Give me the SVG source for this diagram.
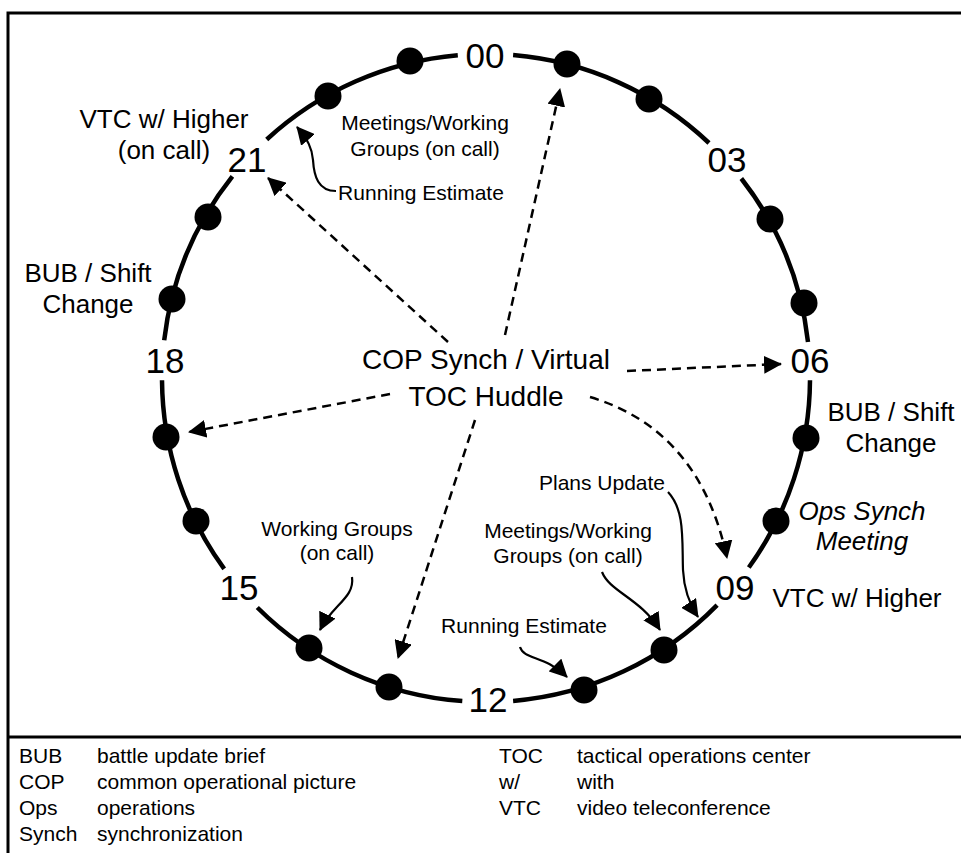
<svg xmlns="http://www.w3.org/2000/svg" width="961" height="853" viewBox="0 0 961 853">
  <style>
    .frame { stroke: #000; stroke-width: 3; fill: none; }
    .ring { stroke: #000; stroke-width: 4.5; fill: none; }
    .dot { fill: #000; }
    .hour { font-family: "Liberation Sans", Arial, sans-serif; font-size: 35px; fill: #000; text-anchor: middle; }
    .big { font-family: "Liberation Sans", Arial, sans-serif; font-size: 26px; fill: #000; text-anchor: middle; }
    .center { font-family: "Liberation Sans", Arial, sans-serif; font-size: 28px; fill: #000; text-anchor: middle; }
    .small { font-family: "Liberation Sans", Arial, sans-serif; font-size: 21px; fill: #000; text-anchor: middle; }
    .legend { font-family: "Liberation Sans", Arial, sans-serif; font-size: 21px; fill: #000; }
    .ital { font-style: italic; }
    .dash { stroke: #000; stroke-width: 2.5; fill: none; stroke-dasharray: 9 6; marker-end: url(#head); }
    .solid { stroke: #000; stroke-width: 2.2; fill: none; marker-end: url(#head); }
  </style>
  <defs>
    <marker id="head" markerUnits="userSpaceOnUse" markerWidth="18" markerHeight="18" viewBox="0 0 18 18" refX="17" refY="9" orient="auto">
      <path d="M0,0 L18,9 L0,18 z" fill="#000"/>
    </marker>
  </defs>

  <rect width="961" height="853" fill="#fff"/>

  <!-- frame and legend divider -->
  <g id="frame">
    <path class="frame" d="M8,853 L8,13 L961,13"/>
    <path class="frame" d="M8,737 L961,737"/>
  </g>

  <!-- 24-hour ring, broken at the labelled hours -->
  <g id="ring">
    <path class="ring" d="M513.1,55.1 A324,324 0 0 1 709.0,143.0"/>
    <path class="ring" d="M741.3,178.5 A324,324 0 0 1 808.0,341.9"/>
    <path class="ring" d="M810.0,380.3 A324,324 0 0 1 748.8,567.5"/>
    <path class="ring" d="M717.1,605.1 A324,324 0 0 1 513.1,700.9"/>
    <path class="ring" d="M462.3,701.1 A324,324 0 0 1 257.3,607.5"/>
    <path class="ring" d="M224.2,568.9 A324,324 0 0 1 162.0,380.3"/>
    <path class="ring" d="M164.2,340.2 A324,324 0 0 1 232.4,176.3"/>
    <path class="ring" d="M266.7,139.5 A324,324 0 0 1 457.8,55.2"/>
  </g>

  <!-- hourly markers -->
  <g id="hour-dots">
    <circle class="dot" cx="567" cy="64" r="13.5"/>
    <circle class="dot" cx="649" cy="99" r="13.5"/>
    <circle class="dot" cx="770" cy="219" r="13.5"/>
    <circle class="dot" cx="804" cy="303" r="13.5"/>
    <circle class="dot" cx="806" cy="438" r="13.5"/>
    <circle class="dot" cx="776" cy="521" r="13.5"/>
    <circle class="dot" cx="664" cy="650" r="13.5"/>
    <circle class="dot" cx="584" cy="690" r="13.5"/>
    <circle class="dot" cx="389" cy="687" r="13.5"/>
    <circle class="dot" cx="309" cy="648" r="13.5"/>
    <circle class="dot" cx="196" cy="521" r="13.5"/>
    <circle class="dot" cx="166" cy="437" r="13.5"/>
    <circle class="dot" cx="172" cy="299" r="13.5"/>
    <circle class="dot" cx="208" cy="217" r="13.5"/>
    <circle class="dot" cx="328" cy="96" r="13.5"/>
    <circle class="dot" cx="410" cy="61" r="13.5"/>
  </g>

  <g id="hour-labels">
    <text class="hour" x="485" y="68">00</text>
    <text class="hour" x="727" y="172">03</text>
    <text class="hour" x="810" y="373">06</text>
    <text class="hour" x="735" y="600">09</text>
    <text class="hour" x="488" y="712">12</text>
    <text class="hour" x="239" y="600">15</text>
    <text class="hour" x="165" y="373">18</text>
    <text class="hour" x="247" y="172">21</text>
  </g>

  <g id="node-cop-synch">
    <text class="center" x="486" y="369">COP Synch / Virtual</text>
    <text class="center" x="486" y="406">TOC Huddle</text>
  </g>

  <g id="node-vtc-21">
    <text class="big" x="164" y="128">VTC w/ Higher</text>
    <text class="big" x="164" y="159">(on call)</text>
  </g>
  <g id="node-bub-18">
    <text class="big" x="88" y="282">BUB / Shift</text>
    <text class="big" x="88" y="313">Change</text>
  </g>
  <g id="node-bub-06">
    <text class="big" x="891" y="421">BUB / Shift</text>
    <text class="big" x="891" y="452">Change</text>
  </g>
  <g id="node-ops-synch">
    <text class="big ital" x="862" y="520">Ops Synch</text>
    <text class="big ital" x="862" y="550">Meeting</text>
  </g>
  <g id="node-vtc-09">
    <text class="big" x="857" y="607">VTC w/ Higher</text>
  </g>

  <g id="node-meetings-22">
    <text class="small" x="425" y="130">Meetings/Working</text>
    <text class="small" x="425" y="156">Groups (on call)</text>
  </g>
  <g id="node-running-22">
    <text class="small" x="421" y="200">Running Estimate</text>
  </g>
  <g id="node-plans">
    <text class="small" x="602" y="490">Plans Update</text>
  </g>
  <g id="node-meetings-10">
    <text class="small" x="568" y="538">Meetings/Working</text>
    <text class="small" x="568" y="563">Groups (on call)</text>
  </g>
  <g id="node-running-11">
    <text class="small" x="524" y="633">Running Estimate</text>
  </g>
  <g id="node-working-14">
    <text class="small" x="337" y="536">Working Groups</text>
    <text class="small" x="337" y="560">(on call)</text>
  </g>

  <!-- connectors -->
  <g id="connectors">
    <path class="dash" d="M505,335 L560,89"/>
    <path class="dash" d="M448,342 L268,178"/>
    <path class="dash" d="M627,371 L781,364"/>
    <path class="dash" d="M390,394 L189,432"/>
    <path class="dash" d="M475,420 L398,658"/>
    <path class="dash" d="M590,397 Q700,430 727,558"/>

    <path class="solid" d="M336,191 C318,191 314,176 313,160 C312,148 308,140 297,127"/>
    <path class="solid" d="M352,577 C355,598 332,605 320,630"/>
    <path class="solid" d="M520,647 C524,660 545,655 567,677"/>
    <path class="solid" d="M602,572 C610,592 640,598 660,630"/>
    <path class="solid" d="M668,492 C685,510 682,540 683,570 C684,590 690,605 698,617"/>
  </g>

  <!-- abbreviations -->
  <g id="legend">
    <text class="legend" x="19" y="763">BUB</text>
    <text class="legend" x="97" y="763">battle update brief</text>
    <text class="legend" x="19" y="789">COP</text>
    <text class="legend" x="97" y="789">common operational picture</text>
    <text class="legend" x="19" y="815">Ops</text>
    <text class="legend" x="97" y="815">operations</text>
    <text class="legend" x="19" y="841">Synch</text>
    <text class="legend" x="97" y="841">synchronization</text>
    <text class="legend" x="499" y="763">TOC</text>
    <text class="legend" x="577" y="763">tactical operations center</text>
    <text class="legend" x="499" y="789">w/</text>
    <text class="legend" x="577" y="789">with</text>
    <text class="legend" x="499" y="815">VTC</text>
    <text class="legend" x="577" y="815">video teleconference</text>
  </g>
</svg>
